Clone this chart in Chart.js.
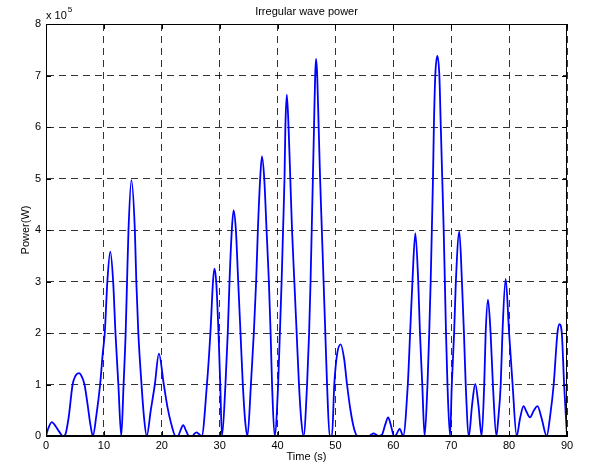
<!DOCTYPE html>
<html>
<head>
<meta charset="utf-8">
<title>Irregular wave power</title>
<script src="https://cdn.jsdelivr.net/npm/chart.js@4.4.1/dist/chart.umd.min.js"></script>
<style>
  html, body { margin: 0; padding: 0; background: #fff; }
  canvas { display: block; }
</style>
</head>
<body>
<canvas id="waveChart" width="593" height="468"></canvas>
<script>
// ==================== DATA ====================

// sample times (s)
const timeSec = [
    0, 0.4, 1.0, 1.6, 2.3, 2.9, 3.3, 3.9, 4.6, 5.1, 5.7, 6.2, 6.65, 7.2, 7.7, 8.1,
    8.7, 9.35, 9.8, 10.15, 10.6, 11.1, 11.6, 12.0, 12.5, 13.0,
    13.4, 13.76, 14.0, 14.25, 14.75, 15.35, 15.6, 15.95, 16.5, 16.9, 17.4,
    18.1, 18.8, 19.5, 20.35, 21.0, 21.6, 22.4,
    22.8, 23.2, 23.7, 24.2, 24.7, 25.3, 25.6, 26.0, 26.4, 26.9,
    27.8, 28.4, 28.85, 29.1, 29.4, 29.8, 30.1, 30.4,
    31.0, 31.4, 31.7, 32.1, 32.4, 32.8, 33.2, 33.6, 34.0, 34.4, 34.8,
    35.4, 35.9, 36.3, 36.6, 37.0, 37.3, 37.7, 38.1, 38.5, 38.8, 39.05, 39.5,
    40.1, 40.4, 40.7, 40.95, 41.2, 41.35, 41.6, 41.9, 42.2, 42.5, 42.9, 43.3, 43.7, 44.1, 44.5,
    45.1, 45.45, 45.7, 45.9, 46.1, 46.3, 46.5, 46.65, 46.85, 47.1, 47.35, 47.65, 47.95, 48.25, 48.55, 49.0,
    49.4, 49.8, 50.3, 50.9, 51.5, 52.0, 52.6, 53.2, 53.8,
    55.8, 56.2, 56.6, 57.0, 57.4, 58.0, 58.6, 59.1, 59.6, 60.1, 60.4, 61.1, 61.7,
    62.5, 62.9, 63.3, 63.8, 64.3, 64.6, 65.0, 65.4,
    65.9, 66.2, 66.45, 66.65, 66.85, 67.0, 67.25, 67.6, 67.95, 68.2, 68.45, 68.7, 68.9, 69.1, 69.35, 69.8,
    70.1, 70.5, 70.8, 71.4, 71.85, 72.2, 72.5, 73.05,
    73.6, 74.15, 74.7, 75.25,
    75.7, 75.95, 76.35, 76.8, 77.2, 77.8,
    78.1, 78.55, 78.85, 79.4, 80.0, 80.6, 81.3,
    81.9, 82.5, 83.0, 83.6, 84.3, 84.9, 85.6, 86.5,
    87.1, 87.7, 88.35, 88.7, 89.1, 89.5, 90.0
];

// power in units of 10^5 W, one value per sample time
const powerE5 = [
    0, 0.15, 0.27, 0.2, 0.08, 0, 0.02, 0.35, 1.0, 1.17, 1.22, 1.15, 1.0, 0.6, 0.2, 0,
    0.4, 1.0, 1.6, 2.0, 3.0, 3.58, 3.0, 2.0, 1.0, 0,
    1.0, 2.0, 3.0, 4.0, 4.97, 4.0, 3.0, 2.0, 1.0, 0.4, 0,
    0.5, 1.0, 1.6, 1.0, 0.55, 0.25, 0,
    0, 0.1, 0.21, 0.1, 0, 0, 0.04, 0.07, 0.04, 0,
    1.0, 2.0, 3.0, 3.25, 3.0, 2.0, 1.0, 0,
    1.0, 2.0, 3.0, 4.0, 4.38, 4.0, 3.0, 2.0, 1.0, 0.3, 0,
    1.0, 2.0, 3.0, 4.0, 5.0, 5.43, 5.0, 4.0, 3.0, 2.0, 1.0, 0,
    1.0, 2.0, 3.0, 4.0, 5.0, 6.0, 6.63, 6.0, 5.0, 4.0, 3.0, 2.0, 1.0, 0.3, 0,
    1.0, 2.0, 3.0, 4.0, 5.0, 6.0, 7.0, 7.32, 7.0, 6.0, 5.0, 4.0, 3.0, 2.0, 1.0, 0,
    0, 1.0, 1.6, 1.78, 1.5, 1.0, 0.5, 0.15, 0,
    0, 0.03, 0.05, 0.03, 0, 0.02, 0.22, 0.36, 0.2, 0, 0.01, 0.14, 0,
    1.0, 2.0, 3.0, 3.94, 3.0, 2.0, 1.0, 0,
    1.0, 2.0, 3.0, 4.0, 5.0, 6.0, 7.0, 7.38, 7.0, 6.0, 5.0, 4.0, 3.0, 2.0, 1.0, 0,
    1.0, 2.0, 3.0, 3.97, 3.0, 2.0, 1.0, 0,
    0.6, 1.01, 0.6, 0,
    1.0, 2.0, 2.65, 2.0, 1.0, 0,
    0.3, 1.0, 2.0, 3.05, 2.0, 1.0, 0,
    0.35, 0.58, 0.47, 0.36, 0.5, 0.58, 0.35, 0,
    0.4, 1.0, 2.0, 2.17, 2.0, 1.0, 0
];

const xTicks = [0, 10, 20, 30, 40, 50, 60, 70, 80, 90];
const yTicks = [0, 1, 2, 3, 4, 5, 6, 7, 8];
const powerExponent = 5;

// ==================== CHART ====================

const FONT = '"Liberation Sans", Arial, Helvetica, sans-serif';

// MATLAB-like frame: box, inward ticks, title and exponent label
const matlabFrame = {
    id: 'matlabFrame',
    afterDatasetsDraw(chart) {
        const { ctx, chartArea: a, scales: { x, y } } = chart;
        ctx.save();
        ctx.strokeStyle = '#000';
        ctx.lineWidth = 1;
        ctx.setLineDash([]);
        ctx.beginPath();
        xTicks.forEach(v => {
            const px = Math.round(x.getPixelForValue(v)) + 0.5;
            ctx.moveTo(px, a.bottom); ctx.lineTo(px, a.bottom - 5);
            ctx.moveTo(px, a.top); ctx.lineTo(px, a.top + 5);
        });
        yTicks.forEach(v => {
            const py = Math.round(y.getPixelForValue(v)) + 0.5;
            ctx.moveTo(a.left, py); ctx.lineTo(a.left + 5, py);
            ctx.moveTo(a.right, py); ctx.lineTo(a.right - 5, py);
        });
        ctx.stroke();
        ctx.strokeRect(a.left + 0.5, a.top + 0.5, a.right - a.left - 1, a.bottom - a.top - 1);

        ctx.fillStyle = '#000';
        ctx.font = '11px ' + FONT;
        ctx.textBaseline = 'middle';
        ctx.textAlign = 'center';
        ctx.fillText('Irregular wave power', (a.left + a.right) / 2, 12);
        ctx.textAlign = 'left';
        ctx.fillText('x 10', a.left, 16);
        const w = ctx.measureText('x 10').width;
        ctx.font = '8px ' + FONT;
        ctx.fillText(String(powerExponent), a.left + w + 1, 10);
        ctx.restore();
    }
};

const ctx = document.getElementById('waveChart').getContext('2d');
const chart = new Chart(ctx, {
    type: 'line',
    data: {
        datasets: [{
            label: 'Power',
            data: timeSec.map((t, i) => ({ x: t, y: powerE5[i] })),
            borderColor: '#0000ff',
            borderWidth: 1.8,
            pointRadius: 0,
            cubicInterpolationMode: 'monotone',
            fill: false
        }]
    },
    options: {
        responsive: false,
        animation: false,
        layout: { padding: { top: 24, right: 26, left: 0, bottom: 0 } },
        plugins: {
            legend: { display: false },
            title: { display: false },
            tooltip: { enabled: false }
        },
        scales: {
            x: {
                type: 'linear',
                min: 0,
                max: 90,
                afterBuildTicks: s => { s.ticks = xTicks.map(v => ({ value: v })); },
                afterFit: s => { s.height = 32; },
                grid: { color: 'rgba(0,0,0,0.8)', lineWidth: 1, drawTicks: false },
                border: { display: true, color: '#000', dash: [7, 5] },
                ticks: { color: '#000', padding: 3, maxRotation: 0, font: { family: FONT, size: 11 } },
                title: { display: true, text: 'Time (s)', color: '#000', padding: { top: 0, bottom: 4 }, font: { family: FONT, size: 11 } }
            },
            y: {
                min: 0,
                max: 8,
                afterBuildTicks: s => { s.ticks = yTicks.map(v => ({ value: v })); },
                afterFit: s => { s.width = 46; },
                grid: { color: 'rgba(0,0,0,0.8)', lineWidth: 1, drawTicks: false },
                border: { display: true, color: '#000', dash: [7, 5] },
                ticks: { color: '#000', padding: 5, font: { family: FONT, size: 11 } },
                title: { display: true, text: 'Power(W)', color: '#000', padding: { top: 19, bottom: 0 }, font: { family: FONT, size: 11 } }
            }
        }
    },
    plugins: [matlabFrame]
});
</script>
</body>
</html>
